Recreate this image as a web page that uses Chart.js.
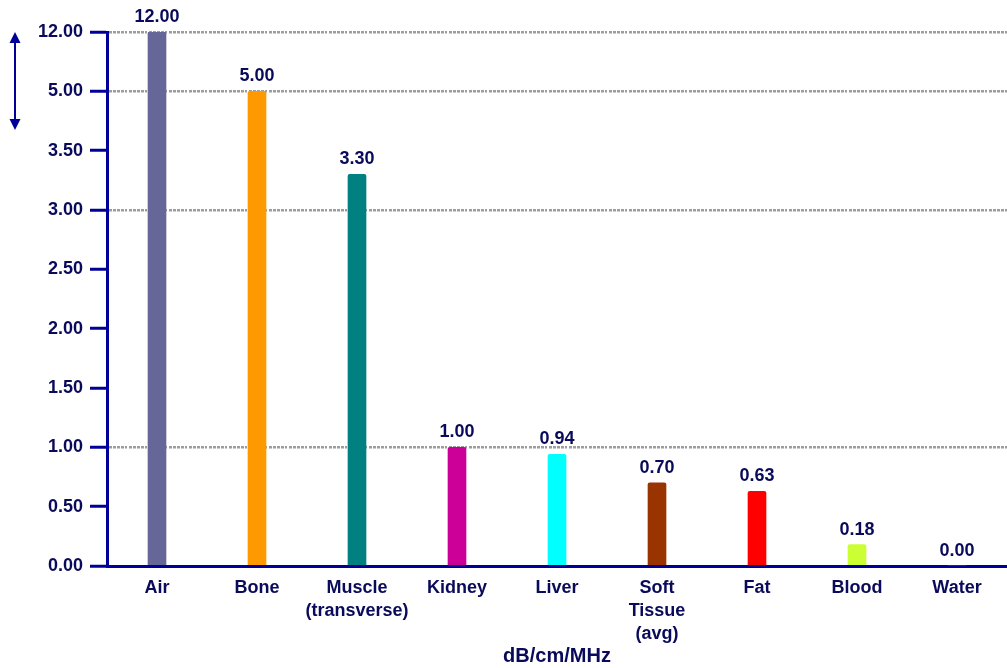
<!DOCTYPE html>
<html>
<head>
<meta charset="utf-8">
<script src="https://cdn.jsdelivr.net/npm/chart.js@4"></script>
<style>
  body { margin: 0; background: #fff; }
  #wrap { width: 1007px; height: 668px; }
</style>
</head>
<body>
<div id="wrap"><canvas id="attenChart"></canvas></div>
<script>
const tissues = [
    'Air', 'Bone', ['Muscle', '(transverse)'], 'Kidney', 'Liver',
    ['Soft', 'Tissue', '(avg)'], 'Fat', 'Blood', 'Water'
];
const attenuation = [12.00, 5.00, 3.30, 1.00, 0.94, 0.70, 0.63, 0.18, 0.00];
const barColors = [
    '#666699', // Air
    '#FF9900', // Bone
    '#008080', // Muscle
    '#CC0099', // Kidney
    '#00FFFF', // Liver
    '#993300', // Soft tissue
    '#FF0000', // Fat
    '#CCFF33', // Blood
    '#3366FF'  // Water
];
// the axis is broken: each tick takes one equal step
const tickValues = [0, 0.5, 1, 1.5, 2, 2.5, 3, 3.5, 5, 12];
const gridValues = [1, 3, 5, 12];

const navy = '#000099';
const textNavy = '#0a0a5a';

// value -> position on the stepped axis
function toStep(v) {
    for (let i = 0; i < tickValues.length - 1; i++) {
        if (v <= tickValues[i + 1]) {
            return i + (v - tickValues[i]) / (tickValues[i + 1] - tickValues[i]);
        }
    }
    return tickValues.length - 1;
}

const valueLabels = {
    id: 'valueLabels',
    afterDatasetsDraw(chart) {
        const ctx = chart.ctx;
        const meta = chart.getDatasetMeta(0);
        ctx.save();
        ctx.font = 'bold 18px "Liberation Sans", Arial, sans-serif';
        ctx.fillStyle = textNavy;
        ctx.textAlign = 'center';
        ctx.textBaseline = 'bottom';
        meta.data.forEach((bar, i) => {
            ctx.fillText(attenuation[i].toFixed(2), bar.x, bar.y - 6);
        });
        ctx.restore();
    }
};

// double arrow marking the broken part of the axis
const breakArrow = {
    id: 'breakArrow',
    afterDraw(chart) {
        const ctx = chart.ctx;
        const y = chart.scales.y;
        const top = y.getPixelForValue(9);
        const bottom = y.getPixelForValue(7.35);
        const x = 15;
        ctx.save();
        ctx.strokeStyle = navy;
        ctx.fillStyle = navy;
        ctx.lineWidth = 2;
        ctx.beginPath();
        ctx.moveTo(x, top + 8);
        ctx.lineTo(x, bottom - 8);
        ctx.stroke();
        ctx.beginPath();
        ctx.moveTo(x, top);
        ctx.lineTo(x - 5.5, top + 11);
        ctx.lineTo(x + 5.5, top + 11);
        ctx.closePath();
        ctx.fill();
        ctx.beginPath();
        ctx.moveTo(x, bottom);
        ctx.lineTo(x - 5.5, bottom - 11);
        ctx.lineTo(x + 5.5, bottom - 11);
        ctx.closePath();
        ctx.fill();
        ctx.restore();
    }
};

const ctx = document.getElementById('attenChart').getContext('2d');
const attenChart = new Chart(ctx, {
    type: 'bar',
    data: {
        labels: tissues,
        datasets: [{
            data: attenuation.map(toStep),
            backgroundColor: barColors,
            barThickness: 18,
            borderRadius: 2,
            borderSkipped: 'bottom'
        }]
    },
    options: {
        responsive: true,
        maintainAspectRatio: false,
        animation: false,
        layout: { padding: { top: 32, right: 0, bottom: 0, left: 0 } },
        plugins: {
            legend: { display: false },
            tooltip: { enabled: false }
        },
        scales: {
            x: {
                grid: { display: false, drawTicks: false },
                border: { color: navy, width: 3 },
                ticks: {
                    color: textNavy,
                    padding: 10,
                    maxRotation: 0,
                    autoSkip: false,
                    font: { family: '"Liberation Sans", Arial, sans-serif', size: 18, weight: 'bold', lineHeight: 1.3 }
                },
                title: {
                    display: true,
                    text: 'dB/cm/MHz',
                    color: textNavy,
                    padding: { top: 0, bottom: 0 },
                    font: { family: '"Liberation Sans", Arial, sans-serif', size: 20, weight: 'bold' }
                },
                afterFit(scale) { scale.height = 102; }
            },
            y: {
                min: 0,
                max: 9,
                z: 1,
                grid: {
                    color: c => gridValues.includes(tickValues[c.tick.value]) ? 'rgba(140,140,140,0.85)' : 'rgba(0,0,0,0)',
                    lineWidth: 2.5,
                    tickLength: 17,
                    tickColor: navy,
                    tickWidth: 3
                },
                border: { color: navy, width: 3, dash: [3, 1, 3, 1, 3, 1, 3, 1, 2, 2] },
                ticks: {
                    stepSize: 1,
                    padding: 7,
                    color: textNavy,
                    font: { family: '"Liberation Sans", Arial, sans-serif', size: 18, weight: 'bold' },
                    callback: v => tickValues[v].toFixed(2)
                },
                afterFit(scale) { scale.width = 107; }
            }
        }
    },
    plugins: [valueLabels, breakArrow]
});
</script>
</body>
</html>
